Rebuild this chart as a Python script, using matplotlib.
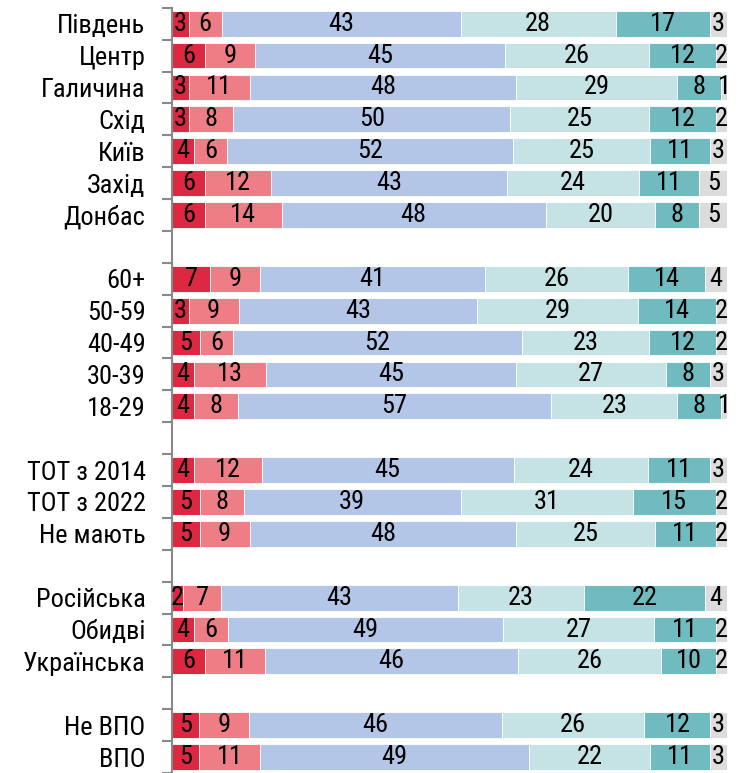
import numpy as np
import matplotlib
matplotlib.use("Agg")
import matplotlib.pyplot as plt
from matplotlib import font_manager

# вузький шрифт, схожий на Arial Narrow
names = {f.name for f in font_manager.fontManager.ttflist}
prefer = ['Liberation Sans Narrow', 'Arial Narrow', 'Roboto Condensed', 'PT Sans Narrow',
          'Open Sans Condensed', 'Archivo Narrow']
narrow = [n for n in prefer if n in names]
plt.rcParams['font.family'] = narrow[:1] + ['Liberation Sans', 'DejaVu Sans']
fsize = 19 if narrow else 17.5

# категорії (None = порожній рядок між групами)
labels = ["Південь", "Центр", "Галичина", "Схід", "Київ", "Захід", "Донбас", None,
          "60+", "50-59", "40-49", "30-39", "18-29", None,
          "ТОТ з 2014", "ТОТ з 2022", "Не мають", None,
          "Російська", "Обидві", "Українська", None,
          "Не ВПО", "ВПО"]

s1 = [3, 6, 3, 3, 4, 6, 6, None, 7, 3, 5, 4, 4, None, 4, 5, 5, None, 2, 4, 6, None, 5, 5]
s2 = [6, 9, 11, 8, 6, 12, 14, None, 9, 9, 6, 13, 8, None, 12, 8, 9, None, 7, 6, 11, None, 9, 11]
s3 = [43, 45, 48, 50, 52, 43, 48, None, 41, 43, 52, 45, 57, None, 45, 39, 48, None, 43, 49, 46, None, 46, 49]
s4 = [28, 26, 29, 25, 25, 24, 20, None, 26, 29, 23, 27, 23, None, 24, 31, 25, None, 23, 27, 26, None, 26, 22]
s5 = [17, 12, 8, 12, 11, 11, 8, None, 14, 14, 12, 8, 8, None, 11, 15, 11, None, 22, 11, 10, None, 12, 11]
s6 = [3, 2, 1, 2, 3, 5, 5, None, 4, 2, 2, 3, 1, None, 3, 2, 2, None, 4, 2, 2, None, 3, 3]

colors = ["#DC2941", "#EE7D86", "#B3C6E7", "#C5E3E5", "#6FBBC0", "#DCDCDC"]

fig = plt.figure(figsize=(7.41, 7.73), dpi=100)
ax = fig.add_axes([0.232, 0.0, 0.749, 0.990])

series = [s1, s2, s3, s4, s5, s6]
for i, lab in enumerate(labels):
    if lab is None:
        continue
    vals = np.array([s[i] for s in series], dtype=float)
    widths = vals / vals.sum() * 100
    left = 0
    for v, w, c in zip(vals, widths, colors):
        ax.barh(i, w, left=left, height=0.81, color=c, edgecolor="white", linewidth=0.6)
        ax.text(left + w / 2, i, f"{int(v)}", ha="center", va="center", fontsize=fsize, color="black")
        left += w

ax.set_xlim(0, 100)
ax.set_ylim(23.5, -0.5)
ax.set_yticks([i for i, l in enumerate(labels) if l is not None])
ax.set_yticklabels([l for l in labels if l is not None], fontsize=fsize)
ax.tick_params(axis='y', which='major', length=0, pad=19)
ax.set_yticks(np.arange(-0.5, 24, 1), minor=True)
ax.tick_params(axis='y', which='minor', length=7, width=1.5, color="#888888")
ax.set_xticks([])
for sp in ["top", "right", "bottom"]:
    ax.spines[sp].set_visible(False)
ax.spines["left"].set_color("#888888")
ax.spines["left"].set_linewidth(1.5)

fig.savefig("out.png", dpi=100)
